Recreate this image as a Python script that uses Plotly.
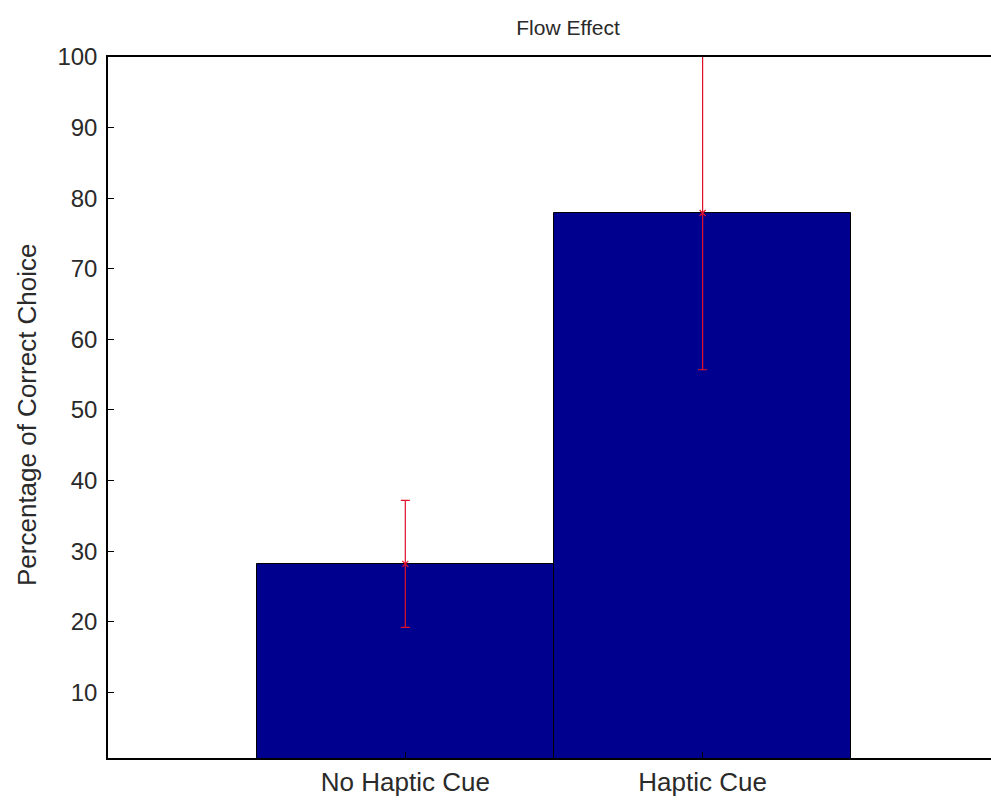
import plotly.graph_objects as go

# Data: mean percentage of correct choice with error ranges
categories = ["No Haptic Cue", "Haptic Cue"]
positions = [1, 2]
means = [28.2, 77.9]
errors = [9.0, 22.2]

W, H = 991, 803
ML, MR, MT, MB = 108, 0, 57, 45
plot_w = W - ML - MR

FONT = "Liberation Sans, Arial, sans-serif"
TEXT = "#2a2a2a"

fig = go.Figure()

fig.add_trace(go.Bar(
    x=positions,
    y=means,
    width=1.0,
    marker=dict(color="#00008F", line=dict(color="#000000", width=1)),
    error_y=dict(type="data", array=errors, visible=True,
                 color="#E0102A", thickness=1.2, width=4.5),
    showlegend=False,
))

fig.add_trace(go.Scatter(
    x=positions,
    y=means,
    mode="markers",
    marker=dict(symbol="x-thin", size=6, line=dict(color="#E0102A", width=1.2)),
    showlegend=False,
))

fig.update_layout(
    width=W,
    height=H,
    margin=dict(l=ML, r=MR, t=MT, b=MB, pad=0),
    paper_bgcolor="white",
    plot_bgcolor="white",
    font=dict(family=FONT, size=20, color=TEXT),
    bargap=0,
    title=dict(text="Flow Effect", x=(568 - ML) / plot_w, xref="paper",
               xanchor="center", y=1 - 28 / H, yanchor="middle",
               font=dict(family=FONT, size=21, color=TEXT)),
    xaxis=dict(
        range=[0, 2.97],
        tickvals=positions,
        ticktext=categories,
        ticks="inside",
        ticklen=6,
        tickcolor="#000000",
        showline=True,
        linecolor="#000000",
        linewidth=1.5,
        mirror=True,
        showgrid=False,
        zeroline=False,
        ticklabelstandoff=0,
        tickfont=dict(family=FONT, size=26, color=TEXT),
    ),
    yaxis=dict(
        range=[0.7, 100],
        tickvals=[10, 20, 30, 40, 50, 60, 70, 80, 90, 100],
        ticks="inside",
        ticklen=6,
        tickcolor="#000000",
        showline=True,
        linecolor="#000000",
        linewidth=1.5,
        mirror=False,
        showgrid=False,
        zeroline=False,
        ticklabelstandoff=4,
        tickfont=dict(family=FONT, size=24, color=TEXT),
    ),
    annotations=[dict(
        text="Percentage of Correct Choice",
        xref="paper", yref="paper",
        x=-(ML - 27) / plot_w, y=(758 - 415) / (758 - 57),
        xanchor="center", yanchor="middle",
        textangle=-90, showarrow=False,
        font=dict(family=FONT, size=26, color=TEXT),
    )],
)

fig.write_html("out.html")
